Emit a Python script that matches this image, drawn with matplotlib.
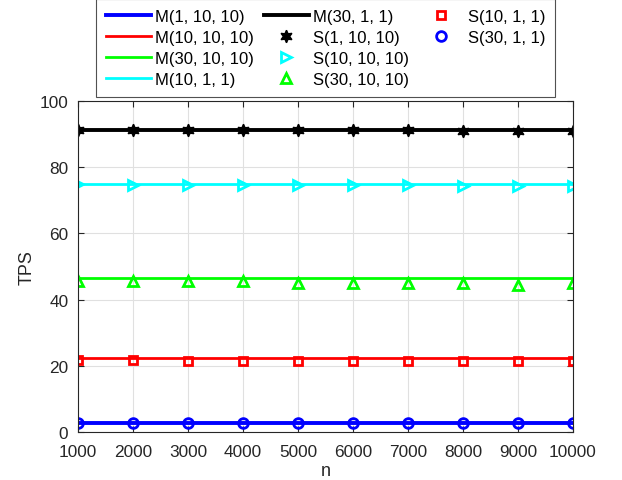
import numpy as np
import matplotlib
matplotlib.use("Agg")
import matplotlib.pyplot as plt
from matplotlib.lines import Line2D

plt.rcParams["font.family"] = ["Liberation Sans", "DejaVu Sans"]

n = [1000, 2000, 3000, 4000, 5000, 6000, 7000, 8000, 9000, 10000]

# model curves
M_1_10_10 = [2.7, 2.7, 2.7, 2.7, 2.7, 2.7, 2.7, 2.7, 2.7, 2.7]
M_10_10_10 = [22.3, 22.3, 22.3, 22.3, 22.3, 22.3, 22.3, 22.3, 22.3, 22.3]
M_30_10_10 = [46.4, 46.4, 46.4, 46.4, 46.4, 46.4, 46.4, 46.4, 46.4, 46.4]
M_10_1_1 = [74.9, 74.9, 74.9, 74.9, 74.9, 74.9, 74.9, 74.9, 74.9, 74.9]
M_30_1_1 = [91.3, 91.3, 91.3, 91.3, 91.3, 91.3, 91.3, 91.3, 91.3, 91.3]

# simulation points
S_1_10_10 = [91.3, 91.3, 91.2, 91.2, 91.1, 91.1, 91.1, 90.8, 91.0, 91.0]
S_10_10_10 = [74.8, 74.7, 74.6, 74.6, 74.6, 74.5, 74.5, 74.3, 74.3, 74.2]
S_30_10_10 = [45.6, 45.6, 45.5, 45.5, 45.1, 45.1, 45.0, 45.0, 44.5, 45.0]
S_10_1_1 = [21.8, 21.7, 21.4, 21.4, 21.4, 21.4, 21.4, 21.4, 21.4, 21.4]
S_30_1_1 = [2.7, 2.7, 2.7, 2.7, 2.7, 2.7, 2.7, 2.7, 2.7, 2.7]

fig = plt.figure(figsize=(6.22, 4.81), dpi=100)
ax = fig.add_axes([0.1254, 0.0998, 0.7958, 0.6882])

ax.plot(n, M_1_10_10, color="#0000ff", lw=2.8, label="M(1, 10, 10)")
ax.plot(n, M_10_10_10, color="#ff0000", lw=2, label="M(10, 10, 10)")
ax.plot(n, M_30_10_10, color="#00ff00", lw=2, label="M(30, 10, 10)")
ax.plot(n, M_10_1_1, color="#00ffff", lw=2, label="M(10, 1, 1)")
ax.plot(n, M_30_1_1, color="black", lw=2.8, label="M(30, 1, 1)")

ax.plot(n, S_1_10_10, ls="none", marker=(6, 1, 0), ms=9, color="black", label="S(1, 10, 10)")
ax.plot(n, S_10_10_10, ls="none", marker=">", ms=7, mfc="none", mew=2, color="#00ffff", label="S(10, 10, 10)")
ax.plot(n, S_30_10_10, ls="none", marker="^", ms=7, mfc="none", mew=2, color="#00ff00", label="S(30, 10, 10)")
ax.plot(n, S_10_1_1, ls="none", marker="s", ms=6, mfc="none", mew=2, color="#ff0000", label="S(10, 1, 1)")
ax.plot(n, S_30_1_1, ls="none", marker="o", ms=7, mfc="none", mew=2, color="#0000ff", label="S(30, 1, 1)")

ax.set_xlim(1000, 10000)
ax.set_ylim(0, 100)
ax.set_xticks(n)
ax.set_yticks([0, 20, 40, 60, 80, 100])
ax.tick_params(direction="in", top=True, right=True, labelsize=12.4, colors="#262626", length=4)
ax.tick_params(axis="x", pad=9)
ax.tick_params(axis="y", pad=7)
ax.grid(True, color="#e0e0e0", lw=0.8)
for s in ax.spines.values():
    s.set_color("#262626")

ax.set_xlabel("n", fontsize=13, color="#262626", labelpad=2)
ax.set_ylabel("TPS", fontsize=13, color="#262626", labelpad=3)

handles, labels = ax.get_legend_handles_labels()
blank = Line2D([], [], ls="none")
handles += [blank, blank]
labels += ["", ""]
leg = ax.legend(handles, labels, ncol=3, loc="lower center", bbox_to_anchor=(0.5, 1.012), fontsize=12,
                frameon=True, fancybox=False, edgecolor="#262626", handlelength=2.7,
                columnspacing=0.6, handletextpad=0.25, labelspacing=0.36, borderpad=0.6,
                borderaxespad=0)
leg.get_frame().set_linewidth(0.8)

fig.savefig("out.png", dpi=100)
